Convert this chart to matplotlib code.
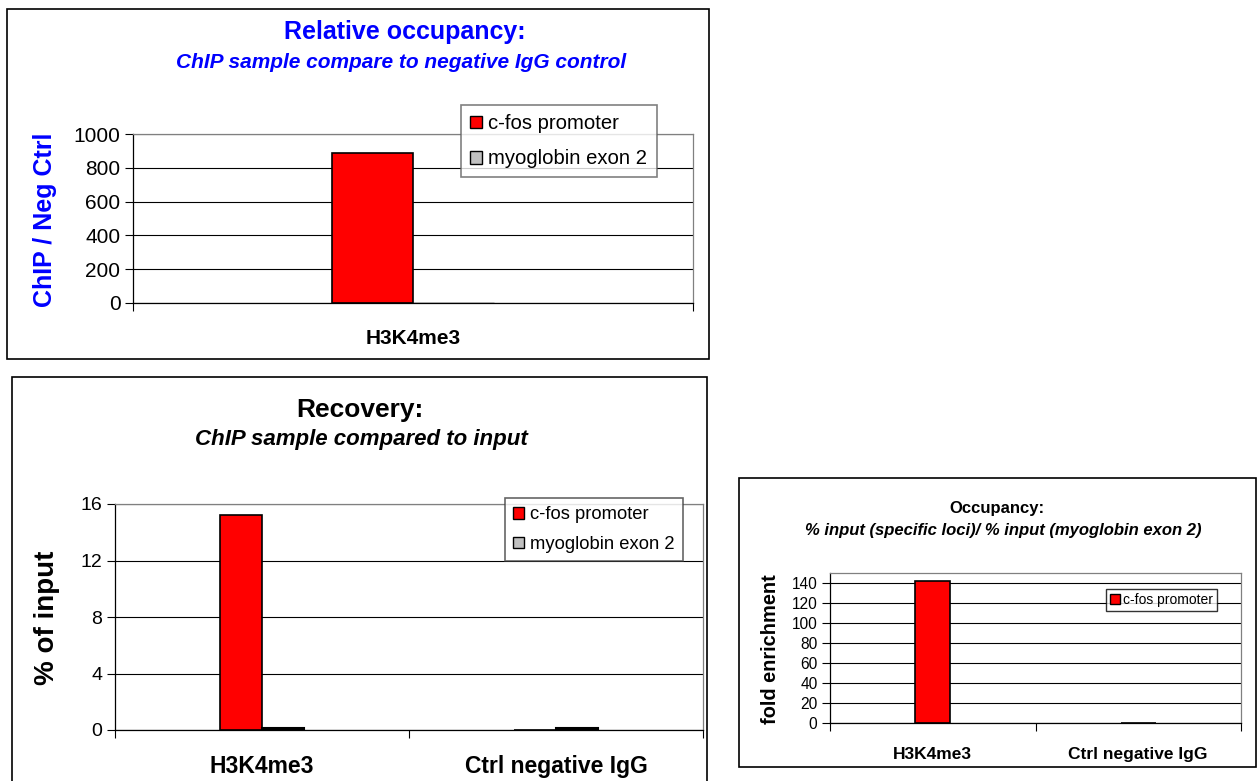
import numpy as np
import matplotlib
matplotlib.use("Agg")
import matplotlib.pyplot as plt
from matplotlib.patches import Rectangle, Patch

plt.rcParams["font.family"] = ["Liberation Sans", "DejaVu Sans"]

# ----------------------------
# Data
# ----------------------------

occ_categories = ["H3K4me3"]
occ_cfos = [890]
occ_myo = [1]

rec_categories = ["H3K4me3", "Ctrl negative IgG"]
rec_cfos = [15.2, 0.02]
rec_myo = [0.12, 0.12]

fold_categories = ["H3K4me3", "Ctrl negative IgG"]
fold_cfos = [142, 0.1]

series_names = ["c-fos promoter", "myoglobin exon 2"]
RED = "#ff0000"
GRAY = "#c0c0c0"

W, H = 1258, 781
fig = plt.figure(figsize=(W / 100, H / 100), dpi=100)


def px_rect(x0, y0, x1, y1):
    return [x0 / W, 1 - y1 / H, (x1 - x0) / W, (y1 - y0) / H]


def px_text(x, y, s, **kw):
    fig.text(x / W, 1 - y / H, s, ha="center", va="center", **kw)


def frame(x0, y0, x1, y1):
    fig.patches.append(Rectangle((x0 / W, 1 - y1 / H), (x1 - x0) / W, (y1 - y0) / H,
                                 transform=fig.transFigure, fill=False,
                                 edgecolor="black", linewidth=1.2))


def style_axes(ax, n_cat, ticks, ylim, cats, tick_fs, cat_fs, cat_pad):
    ax.set_xlim(0, n_cat)
    ax.set_ylim(*ylim)
    ax.set_yticks(ticks)
    ax.yaxis.grid(True, color="black", linewidth=0.8)
    ax.set_axisbelow(True)
    for side in ["top", "right"]:
        ax.spines[side].set_color("#808080")
    for side in ["left", "bottom"]:
        ax.spines[side].set_color("black")
    for s in ax.spines.values():
        s.set_linewidth(0.9)
    ax.set_xticks(np.arange(n_cat + 1))
    ax.set_xticklabels([""] * (n_cat + 1))
    ax.set_xticks(np.arange(n_cat) + 0.5, minor=True)
    ax.set_xticklabels(cats, minor=True, fontsize=cat_fs, fontweight="bold")
    ax.tick_params(axis="x", which="major", length=6, direction="out")
    ax.tick_params(axis="x", which="minor", length=0, pad=cat_pad)
    ax.tick_params(axis="y", length=6, direction="out", labelsize=tick_fs, pad=3)


# ----------------------------
# Relative occupancy
# ----------------------------

frame(7, 9, 709, 359)
ax1 = fig.add_axes(px_rect(133, 134, 693, 303))
x = np.arange(len(occ_categories)) + 0.5
bw = 0.145
ax1.bar(x - bw / 2, occ_cfos, bw, color=RED, edgecolor="black", linewidth=1.2)
ax1.bar(x + bw / 2, occ_myo, bw, color=GRAY, edgecolor="black", linewidth=1)
style_axes(ax1, 1, [0, 200, 400, 600, 800, 1000], (0, 1000), occ_categories, 15, 15, 19)
px_text(405, 32, "Relative occupancy:", fontsize=18, fontweight="bold", color="#0000ff")
px_text(401, 62, "ChIP sample compare to negative IgG control", fontsize=15,
        fontweight="bold", style="italic", color="#0000ff")
px_text(45, 220, "ChIP / Neg Ctrl", fontsize=18, fontweight="bold", color="#0000ff", rotation=90)
handles = [Patch(facecolor=RED, edgecolor="black"), Patch(facecolor=GRAY, edgecolor="black")]
leg1 = ax1.legend(handles, series_names, loc="upper left", bbox_to_anchor=(461 / W, 1 - 105 / H),
                  bbox_transform=fig.transFigure, fontsize=14.6, frameon=True, fancybox=False,
                  edgecolor="#606060", handlelength=0.6, handleheight=0.6, handletextpad=0.3,
                  labelspacing=0.8, borderpad=0.45, borderaxespad=0)
leg1.get_frame().set_linewidth(1.2)

# ----------------------------
# Recovery
# ----------------------------

frame(12, 377, 707, 790)
ax2 = fig.add_axes(px_rect(115, 504, 703, 730))
x = np.arange(len(rec_categories)) + 0.5
bw = 0.143
ax2.bar(x - bw / 2, rec_cfos, bw, color=RED, edgecolor="black", linewidth=1.2)
ax2.bar(x + bw / 2, rec_myo, bw, color=GRAY, edgecolor="black", linewidth=1.5)
style_axes(ax2, 2, [0, 4, 8, 12, 16], (0, 16), rec_categories, 14, 16.5, 18)
px_text(360, 410, "Recovery:", fontsize=19, fontweight="bold")
px_text(361, 440, "ChIP sample compared to input", fontsize=16, fontweight="bold", style="italic")
px_text(47, 618, "% of input", fontsize=20, fontweight="bold", rotation=90)
leg2 = ax2.legend(handles, series_names, loc="upper left", bbox_to_anchor=(505 / W, 1 - 498 / H),
                  bbox_transform=fig.transFigure, fontsize=13.2, frameon=True, fancybox=False,
                  edgecolor="#404040", handlelength=0.6, handleheight=0.6, handletextpad=0.3,
                  labelspacing=0.7, borderpad=0.45, borderaxespad=0)
leg2.get_frame().set_linewidth(1.2)

# ----------------------------
# Occupancy (fold enrichment)
# ----------------------------

frame(739, 478, 1256, 767)
ax3 = fig.add_axes(px_rect(830, 573, 1241, 723))
x = np.arange(len(fold_categories)) + 0.5
ax3.bar(x, fold_cfos, 0.17, color=RED, edgecolor="black", linewidth=1.2)
style_axes(ax3, 2, list(range(0, 141, 20)), (0, 150), fold_categories, 11.2, 12.5, 17)
px_text(997, 509, "Occupancy:", fontsize=12, fontweight="bold")
px_text(1003, 531, "% input (specific loci)/ % input (myoglobin exon 2)", fontsize=12,
        fontweight="bold", style="italic")
px_text(770, 649, "fold enrichment", fontsize=14.4, fontweight="bold", rotation=90)
leg3 = ax3.legend(handles[:1], series_names[:1], loc="upper left",
                  bbox_to_anchor=(1106 / W, 1 - 589 / H), bbox_transform=fig.transFigure,
                  fontsize=10, frameon=True, fancybox=False, edgecolor="black",
                  handlelength=0.7, handleheight=0.7, handletextpad=0.2,
                  borderpad=0.3, borderaxespad=0)
leg3.get_frame().set_linewidth(1)

fig.savefig("out.png", dpi=100, facecolor="white")
